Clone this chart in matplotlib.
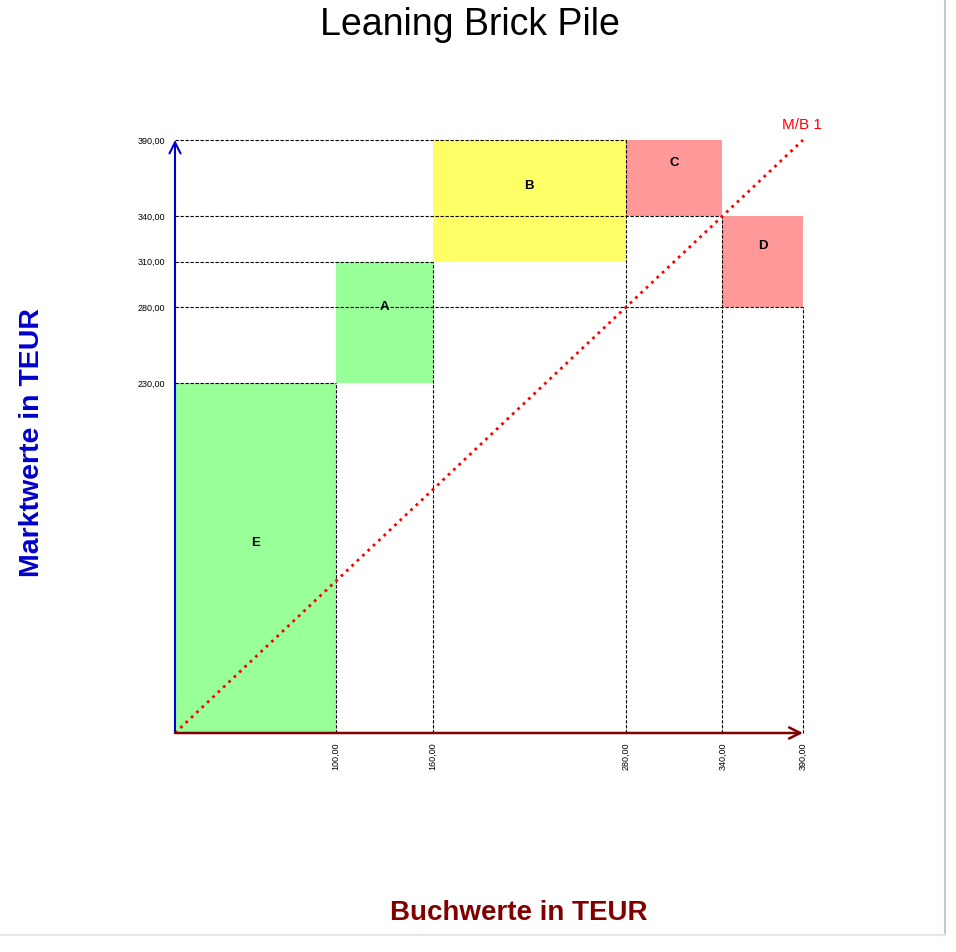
import numpy as np
import matplotlib
matplotlib.use("Agg")
import matplotlib.pyplot as plt
from matplotlib.patches import Rectangle
from matplotlib.lines import Line2D

plt.rcParams['font.family'] = ['Liberation Sans', 'DejaVu Sans']

# bricks: book value (width) and market value (height), in pile order
names = ['E', 'A', 'B', 'C', 'D']
book = [100, 60, 120, 60, 50]
market = [230, 80, 80, -50, -60]
colors = ['#99ff99', '#99ff99', '#ffff66', '#ff9999', '#ff9999']

x_ticks = [100, 160, 280, 340, 390]
y_ticks = [230, 280, 310, 340, 390]

fig = plt.figure(figsize=(9.56, 9.52), dpi=100)
ax = fig.add_axes([175 / 956, 219 / 952, 628 / 956, 593 / 952])
ax.set_xlim(0, 390)
ax.set_ylim(0, 390)

x0, y0 = 0, 0
corners = []
for n, b, m, c in zip(names, book, market, colors):
    x1, y1 = x0 + b, y0 + m
    ax.add_patch(Rectangle((x0, min(y0, y1)), b, abs(m), facecolor=c, edgecolor='none', zorder=1))
    ax.text(x0 + b / 2, (y0 + y1) / 2 + 10, n, ha='center', va='center',
            fontsize=9.5, fontweight='bold', zorder=5)
    corners.append((x1, y1))
    x0, y0 = x1, y1

# dashed guide lines from each corner to the axes
for cx, cy in corners:
    ax.plot([cx, cx], [0, cy], color='black', linestyle='--', linewidth=0.8, dashes=(3, 1.5),
            zorder=2, clip_on=False)
    ax.plot([0, cx], [cy, cy], color='black', linestyle='--', linewidth=0.8, dashes=(3, 1.5),
            zorder=2, clip_on=False)

# M/B = 1 line
ax.plot([0, 390], [0, 390], color='red', linestyle=':', linewidth=2, zorder=3, clip_on=False)
ax.text(377, 400, 'M/B 1', color='red', fontsize=11, ha='left', va='center')

# axis arrows
ax.annotate('', xy=(0, 390), xytext=(0, 0),
            arrowprops=dict(arrowstyle='->', color='#0000cc', lw=1.5, mutation_scale=20,
                            shrinkA=0, shrinkB=0), zorder=4)
ax.annotate('', xy=(390, 0), xytext=(0, 0),
            arrowprops=dict(arrowstyle='->', color='#800000', lw=1.8, mutation_scale=20,
                            shrinkA=0, shrinkB=0), zorder=4)

ax.set_xticks(x_ticks)
ax.set_xticklabels(['%d,00' % v for v in x_ticks], rotation=90, fontsize=6.5)
ax.set_yticks(y_ticks)
ax.set_yticklabels(['%d,00' % v for v in y_ticks], fontsize=6.5)
ax.tick_params(length=0, pad=7)
for s in ax.spines.values():
    s.set_visible(False)

fig.text(470 / 956, 1 - 25 / 952, 'Leaning Brick Pile', ha='center', va='center', fontsize=27)
fig.text(32 / 956, 1 - 443 / 952, 'Marktwerte in TEUR', rotation=90, ha='center', va='center',
         fontsize=20.5, fontweight='bold', color='#0000cc')
fig.text(519 / 956, 1 - 913 / 952, 'Buchwerte in TEUR', ha='center', va='center',
         fontsize=20, fontweight='bold', color='#800000')

# page border
fig.add_artist(Line2D([945 / 956, 945 / 956], [17 / 952, 1], color='#c8c8c8', lw=1.5))
fig.add_artist(Line2D([0, 945 / 956], [17 / 952, 17 / 952], color='#e6e6e6', lw=1.5))

fig.savefig('out.png', dpi=100)
